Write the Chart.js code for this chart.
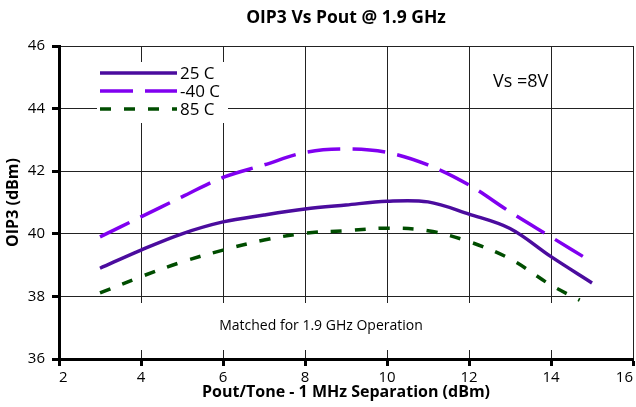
<!DOCTYPE html>
<html>
<head>
<meta charset="utf-8">
<script src="https://cdn.jsdelivr.net/npm/chart.js@4.4.1/dist/chart.umd.min.js"></script>
<style>
  html, body { margin: 0; padding: 0; background: #fff; }
</style>
</head>
<body>
<canvas id="myChart" width="636" height="407"></canvas>
<script>
// values
const poutTone = [3, 4, 5, 6, 7, 8, 9, 10, 11, 12, 13, 14, 15];
const oip3At25 = [38.9, 39.48, 40.0, 40.38, 40.6, 40.79, 40.92, 41.04, 41.02, 40.63, 40.17, 39.27, 38.43];
const oip3AtMinus40 = [39.9, 40.54, 41.18, 41.8, 42.2, 42.6, 42.71, 42.6, 42.2, 41.56, 40.7, 39.9, 39.1];
const poutTone85 = [3, 4, 5, 6, 7, 8, 9, 10, 11, 12, 13, 14, 14.7];
const oip3At85 = [38.11, 38.63, 39.1, 39.48, 39.8, 40.02, 40.1, 40.18, 40.1, 39.75, 39.2, 38.36, 37.88];
const seriesNames = ["25 C", "-40 C", "85 C"];
const xTicks = [2, 4, 6, 8, 10, 12, 14, 16];
const yTicks = [36, 38, 40, 42, 44, 46];

const FONT = "'Open Sans', 'DejaVu Sans', sans-serif";
const colors = ["#4b0c9e", "#8000f0", "#004d00"];
const dashes = [[], [33, 12], [11, 13]];

function toPoints(xs, ys) {
  return xs.map(function (x, i) { return { x: x, y: ys[i] }; });
}

const decorPlugin = {
  id: "decor",
  beforeDatasetsDraw: function (chart) {
    const ctx = chart.ctx;
    ctx.save();
    ctx.fillStyle = "#fff";
    ctx.fillRect(97, 62, 131, 61);   // legend box
    ctx.fillRect(120, 303, 450, 47); // note box
    ctx.restore();
  },
  afterDatasetsDraw: function (chart) {
    const ctx = chart.ctx;
    ctx.save();
    // legend
    const rows = [73, 91, 109];
    for (let i = 0; i < seriesNames.length; i++) {
      ctx.beginPath();
      ctx.strokeStyle = colors[i];
      ctx.lineWidth = 3.5;
      ctx.setLineDash(dashes[i]);
      ctx.moveTo(100, rows[i]);
      ctx.lineTo(177, rows[i]);
      ctx.stroke();
    }
    ctx.setLineDash([]);
    ctx.fillStyle = "#000";
    ctx.font = "17px " + FONT;
    ctx.textBaseline = "middle";
    ctx.textAlign = "left";
    for (let i = 0; i < seriesNames.length; i++) {
      ctx.fillText(seriesNames[i], 180, rows[i] + 1);
    }
    // notes
    ctx.font = "18px " + FONT;
    ctx.fillText("Vs =8V", 493, 82);
    ctx.font = "14px " + FONT;
    ctx.textAlign = "center";
    ctx.fillText("Matched for 1.9 GHz Operation", 321, 326);
    ctx.restore();
  },
};

const ctx = document.getElementById("myChart").getContext("2d");
const myChart = new Chart(ctx, {
  type: "line",
  data: {
    datasets: [
      { label: seriesNames[0], data: toPoints(poutTone, oip3At25), borderColor: colors[0], borderDash: dashes[0] },
      { label: seriesNames[1], data: toPoints(poutTone, oip3AtMinus40), borderColor: colors[1], borderDash: dashes[1] },
      { label: seriesNames[2], data: toPoints(poutTone85, oip3At85), borderColor: colors[2], borderDash: dashes[2] },
    ],
  },
  options: {
    responsive: false,
    animation: false,
    layout: { padding: { left: 0, right: 3, top: 0, bottom: 0 } },
    elements: {
      line: { borderWidth: 3.5, tension: 0.35, fill: false },
      point: { radius: 0 },
    },
    plugins: {
      legend: { display: false },
      tooltip: { enabled: false },
      title: {
        display: true,
        fullSize: false,
        text: "OIP3 Vs Pout @ 1.9 GHz",
        color: "#000",
        font: { family: FONT, size: 17.5, weight: "bold" },
        padding: { top: 7.5, bottom: 17.5 },
      },
    },
    scales: {
      x: {
        type: "linear",
        min: 2,
        max: 16,
        afterBuildTicks: function (scale) {
          scale.ticks = xTicks.map(function (v) { return { value: v }; });
        },
        afterFit: function (scale) { scale.height = 48; scale.paddingRight = 0; },
        ticks: { color: "#000", font: { family: FONT, size: 15 }, padding: 3, align: "inner", maxRotation: 0 },
        grid: { color: "#222", lineWidth: 1, tickLength: 7, tickWidth: 3, tickColor: "#000" },
        border: { color: "#000", width: 3 },
        title: {
          display: true,
          text: "Pout/Tone - 1 MHz Separation (dBm)",
          color: "#000",
          font: { family: FONT, size: 16, weight: "bold" },
          padding: { top: 0, bottom: 5 },
        },
      },
      y: {
        min: 36,
        max: 46,
        afterBuildTicks: function (scale) {
          scale.ticks = yTicks.map(function (v) { return { value: v }; });
        },
        afterFit: function (scale) { scale.width = 59; },
        ticks: { color: "#000", font: { family: FONT, size: 15 }, padding: 7 },
        grid: { color: "#222", lineWidth: 1, tickLength: 7, tickWidth: 3, tickColor: "#000" },
        border: { color: "#000", width: 3 },
        title: {
          display: true,
          text: "OIP3 (dBm)",
          color: "#000",
          font: { family: FONT, size: 16, weight: "bold" },
          padding: { top: 4, bottom: 0 },
        },
      },
    },
  },
  plugins: [decorPlugin],
});
</script>
</body>
</html>
